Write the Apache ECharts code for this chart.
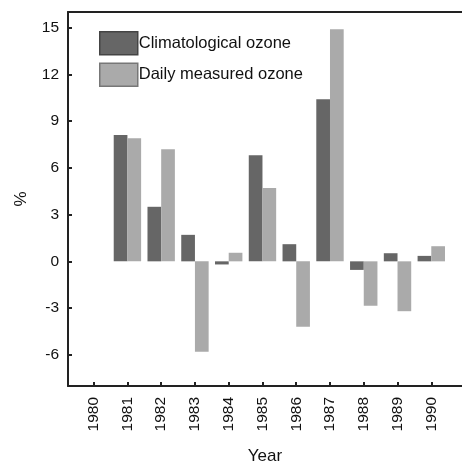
<!DOCTYPE html>
<html>
<head>
<meta charset="utf-8">
<script src="https://cdn.jsdelivr.net/npm/echarts@6/dist/echarts.min.js"></script>
<style>
  html, body { margin: 0; padding: 0; background: #fff; }
  #chart { width: 462px; height: 462px; }
</style>
</head>
<body>
<div id="chart"></div>
<script>
// years on x axis
const years = [1980, 1981, 1982, 1983, 1984, 1985, 1986, 1987, 1988, 1989, 1990];
// bar years (1980 has no bars)
const barYears = [1981, 1982, 1983, 1984, 1985, 1986, 1987, 1988, 1989, 1990];
const climatological = [8.1, 3.5, 1.7, -0.2, 6.8, 1.1, 10.4, -0.55, 0.52, 0.35];
const dailyMeasured = [7.9, 7.2, -5.8, 0.55, 4.7, -4.2, 14.9, -2.85, -3.2, 0.97];
const yTicks = [-6, -3, 0, 3, 6, 9, 12, 15];

const font = '"Liberation Sans", Arial, sans-serif';

function pairs(xs, ys) {
  return xs.map(function (x, i) { return [x, ys[i]]; });
}

const chart = echarts.init(document.getElementById('chart'));
chart.setOption({
  animation: false,
  textStyle: { fontFamily: font, color: '#111' },
  grid: { left: 68, top: 12, right: 0, bottom: 76, containLabel: false, outerBoundsMode: 'none' },
  legend: {
    orient: 'vertical',
    left: 99,
    top: 31,
    padding: 0,
    itemWidth: 38,
    itemHeight: 23,
    itemGap: 7,
    icon: 'rect',
    textStyle: { fontFamily: font, fontSize: 16.5, color: '#111', padding: [0, 0, 0, -4] },
    data: [
      { name: 'Climatological ozone', itemStyle: { color: '#666666', borderColor: '#444', borderWidth: 1.5 } },
      { name: 'Daily measured ozone', itemStyle: { color: '#aaaaaa', borderColor: '#777', borderWidth: 1.5 } }
    ]
  },
  xAxis: [
    {
      type: 'value',
      min: 1979.24,
      max: 1990.91,
      name: 'Year',
      nameLocation: 'middle',
      nameGap: 62,
      nameTextStyle: { fontFamily: font, fontSize: 17, color: '#111' },
      splitLine: { show: false },
      axisLine: { onZero: false, lineStyle: { color: '#222', width: 2 } },
      axisTick: { inside: true, length: 4, customValues: years, lineStyle: { color: '#222', width: 2 } },
      axisLabel: {
        customValues: years,
        rotate: 90,
        margin: 11,
        fontSize: 15.5,
        color: '#111',
        fontFamily: font,
        formatter: function (v) { return String(v); }
      }
    },
    {
      type: 'value',
      position: 'top',
      min: 1979.24,
      max: 1990.91,
      splitLine: { show: false },
      axisLine: { show: true, onZero: false, lineStyle: { color: '#222', width: 2 } },
      axisTick: { show: false },
      axisLabel: { show: false }
    }
  ],
  yAxis: {
    type: 'value',
    min: -8,
    max: 16,
    name: '%',
    nameLocation: 'middle',
    nameGap: 38,
    nameTextStyle: { fontFamily: font, fontSize: 17, color: '#111' },
    splitLine: { show: false },
    axisLine: { show: true, onZero: false, lineStyle: { color: '#222', width: 2 } },
    axisTick: { show: true, inside: true, length: 4, customValues: yTicks, lineStyle: { color: '#222', width: 2 } },
    axisLabel: {
      customValues: yTicks,
      margin: 9,
      fontSize: 15.5,
      color: '#111',
      fontFamily: font
    }
  },
  series: [
    {
      name: 'Climatological ozone',
      type: 'bar',
      xAxisIndex: 0,
      barWidth: 13.7,
      barGap: '0%',
      itemStyle: { color: '#666666' },
      data: pairs(barYears, climatological)
    },
    {
      name: 'Daily measured ozone',
      type: 'bar',
      xAxisIndex: 0,
      barWidth: 13.7,
      barGap: '0%',
      itemStyle: { color: '#aaaaaa' },
      data: pairs(barYears, dailyMeasured)
    }
  ]
});
</script>
</body>
</html>
